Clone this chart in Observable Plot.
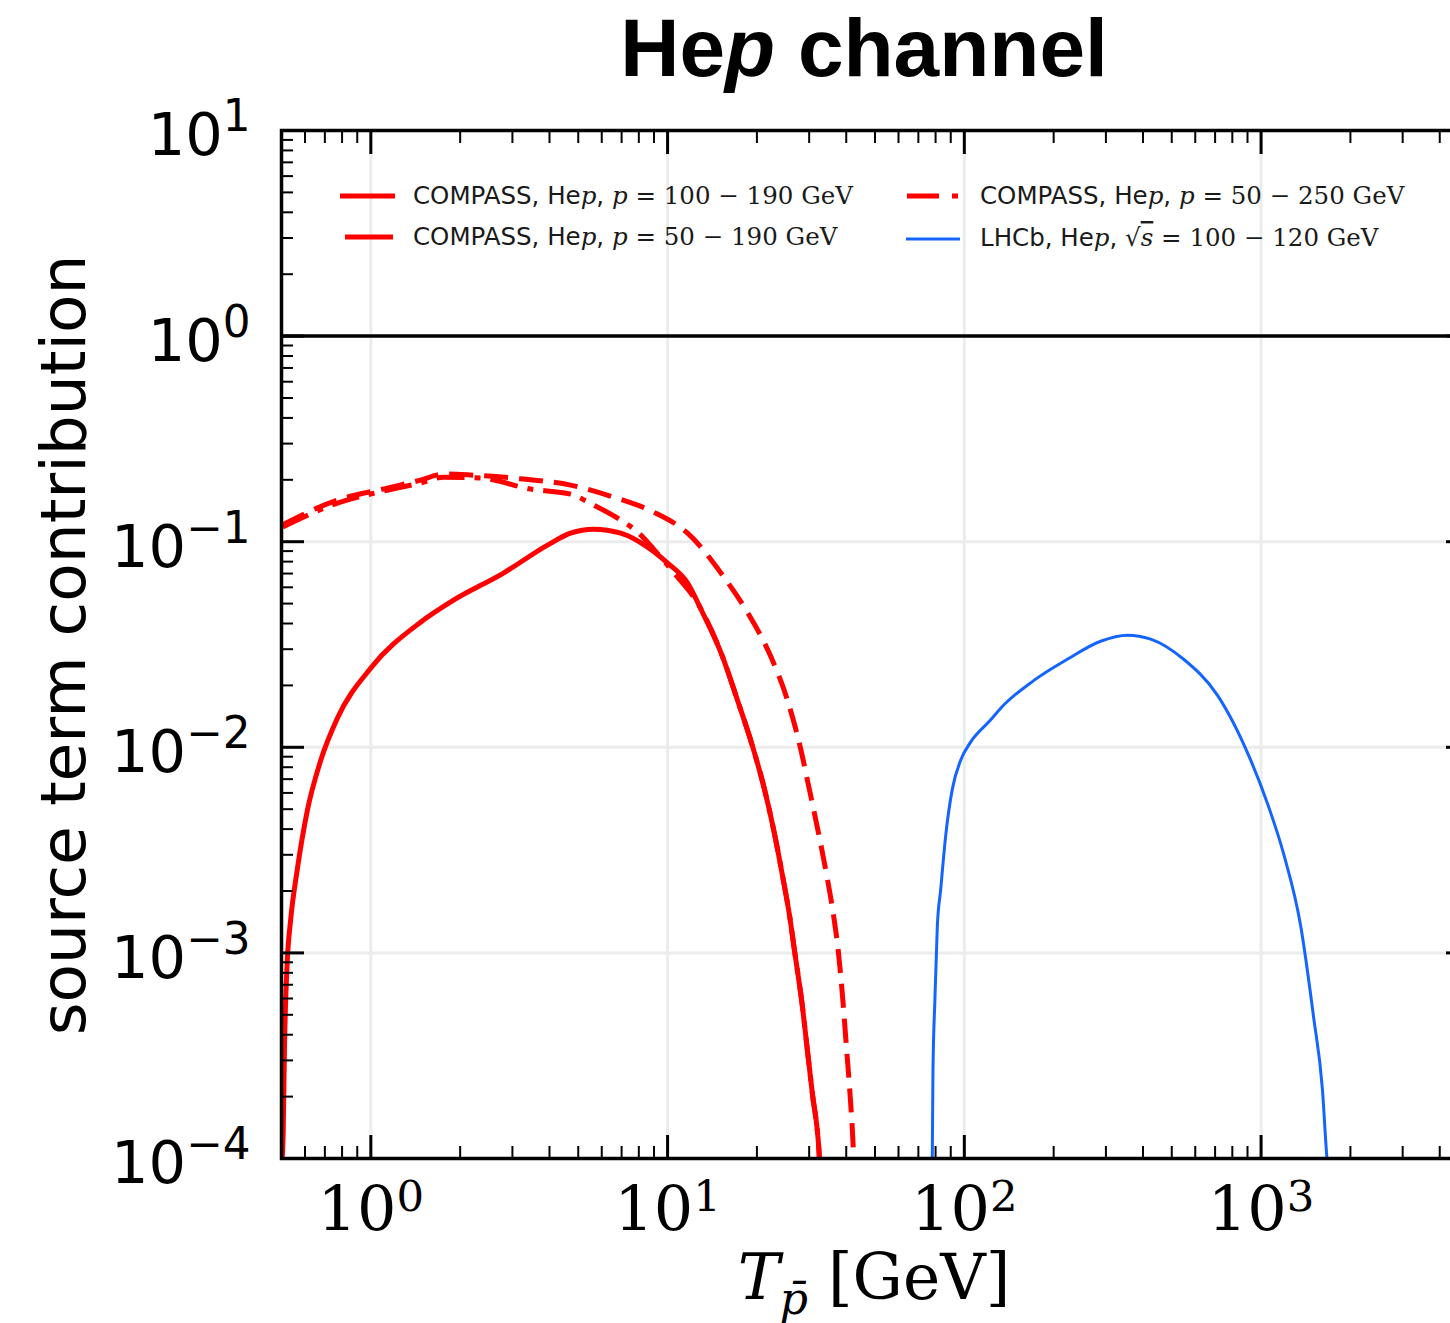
<!DOCTYPE html>
<html><head><meta charset="utf-8">
<script src="https://cdn.jsdelivr.net/npm/d3@7"></script>
<script src="https://cdn.jsdelivr.net/npm/@observablehq/plot@0.6"></script>
<style>
html,body{margin:0;padding:0;background:#fff;}
#wrap{position:relative;width:1450px;height:1323px;overflow:hidden;background:#fff;}
#chart{position:absolute;left:0;top:0;width:1470px;height:1323px;}
#chart svg{max-width:none !important;}
#overlay{position:absolute;left:0;top:0;pointer-events:none;}
</style>
</head><body>
<div id="wrap"><div id="chart"></div>
<svg id="overlay" width="1450" height="1323" xmlns="http://www.w3.org/2000/svg"></svg>
</div>
<script>
// ---- data ----
const seriesNames = [
  "COMPASS, Hep, p = 100 − 190 GeV",
  "COMPASS, Hep, p = 50 − 190 GeV",
  "COMPASS, Hep, p = 50 − 250 GeV",
  "LHCb, Hep, √s = 100 − 120 GeV"
];
const compass100_190_T = [0.503, 0.5067, 0.5117, 0.5225, 0.5363, 0.5648, 0.6103, 0.6767, 0.7706, 1.0, 1.471, 1.90, 2.80, 3.94, 4.71, 5.63, 6.95, 8.56, 10.0, 11.68, 13.09, 15.29, 17.18, 19.30, 21.12, 22.83, 24.36, 25.84, 26.79, 28.45, 29.57, 30.74, 32.36, 32.66];
const compass100_190_V = [1e-4, 1.36e-4, 3.48e-4, 8.92e-4, 1.43e-3, 2.53e-3, 4.89e-3, 8.57e-3, 0.0138, 0.0243, 0.0406, 0.052, 0.0704, 0.0963, 0.110, 0.1151, 0.110, 0.0941, 0.0787, 0.0629, 0.0455, 0.02778, 0.01704, 0.01019, 6.40e-3, 3.91e-3, 2.40e-3, 1.477e-3, 1.02e-3, 5.53e-4, 3.39e-4, 2.08e-4, 1.10e-4, 8.8e-5];
const compass50_190_T = [0.505, 0.7706, 1.136, 1.471, 1.758, 2.168, 3.271, 4.711, 6.577, 8.97, 11.68, 15.48, 18.56, 22.24, 25.32, 27.92, 29.94, 32.16, 34.35, 36.36, 37.61, 39.10, 40.12, 41.17, 42.27, 42.53];
const compass50_190_V = [0.121, 0.1593, 0.1823, 0.1993, 0.2133, 0.211, 0.2016, 0.1885, 0.1648, 0.1393, 0.110, 0.0673, 0.0455, 0.02778, 0.01704, 0.01019, 6.40e-3, 3.91e-3, 2.40e-3, 1.477e-3, 1.02e-3, 5.53e-4, 3.39e-4, 2.08e-4, 1.10e-4, 8.8e-5];
const compass50_250_T = [0.505, 0.7706, 1.136, 1.471, 1.758, 2.343, 3.453, 4.711, 5.632, 6.785, 7.925, 9.47, 10.81, 12.62, 15.29, 17.18, 19.30, 21.12, 22.83, 24.36, 25.84, 26.79, 28.45, 29.57, 30.74, 32.36, 32.66];
const compass50_250_V = [0.118, 0.154, 0.178, 0.193, 0.206, 0.2039, 0.1803, 0.1704, 0.1507, 0.1302, 0.1114, 0.0842, 0.0673, 0.0503, 0.02778, 0.01704, 0.01019, 6.40e-3, 3.91e-3, 2.40e-3, 1.477e-3, 1.02e-3, 5.53e-4, 3.39e-4, 2.08e-4, 1.10e-4, 8.8e-5];
const lhcb_T = [77.8, 78.0, 78.4, 79.6, 81.1, 83.2, 86.5, 91.1, 97.2, 105.0, 122.5, 132.6, 171.2, 222.4, 288.0, 354.3, 424.5, 548.3, 712.4, 922.5, 1050, 1192, 1360, 1503, 1609, 1663, 1690];
const lhcb_V = [8e-5, 1.05e-4, 2.66e-4, 5.96e-4, 1.35e-3, 2.02e-3, 3.70e-3, 6.26e-3, 8.66e-3, 0.0106, 0.01356, 0.0155, 0.0211, 0.0268, 0.0328, 0.0351, 0.0336, 0.0268, 0.01795, 0.00866, 0.00535, 0.00302, 0.00135, 4.87e-4, 2.18e-4, 1.05e-4, 8e-5];
const refLine = [1];
const xMajorTicks = [1, 10, 100, 1000];
const yMajorTicks = [1e-4, 1e-3, 1e-2, 1e-1, 1, 10];

// ---- build tables ----
const toRows = (T, V) => T.map((t, i) => ({T: t, v: V[i]}));
const s1 = toRows(compass100_190_T, compass100_190_V);
const s2 = toRows(compass50_190_T, compass50_190_V);
const s3 = toRows(compass50_250_T, compass50_250_V);
const s4 = toRows(lhcb_T, lhcb_V);

const xDomain = [0.5, 5000];
const yDomain = [1e-4, 10];
function minorTicks([lo, hi]) {
  const out = [];
  for (let e = Math.floor(Math.log10(lo)); e <= Math.ceil(Math.log10(hi)); e++) {
    for (let k = 2; k <= 9; k++) { const v = k * Math.pow(10, e); if (v >= lo && v <= hi) out.push(v); }
  }
  return out;
}
const xMinor = minorTicks(xDomain);
const yMinor = minorTicks(yDomain);
const expFmt = d => "10^" + String(Math.round(Math.log10(d))).replace("-", "\u2212");

const RED = "#ff0000", BLUE = "#1464ff", GRID = "#ececec";
const blank = () => "";

const plot = Plot.plot({
  width: 1470, height: 1323,
  marginLeft: 281, marginRight: 2, marginTop: 130, marginBottom: 165,
  x: {type: "log", domain: xDomain},
  y: {type: "log", domain: yDomain},
  style: {background: "white", fontFamily: "DejaVu Sans", overflow: "visible", maxWidth: "none"},
  marks: [
    Plot.gridX({ticks: xMajorTicks, stroke: GRID, strokeOpacity: 1, strokeWidth: 3}),
    Plot.gridY({ticks: yMajorTicks, stroke: GRID, strokeOpacity: 1, strokeWidth: 3}),
    Plot.ruleY(refLine, {stroke: "black", strokeWidth: 3.5}),
    Plot.line(s1, {x: "T", y: "v", stroke: RED, strokeWidth: 5, curve: "monotone-x", clip: true}),
    Plot.line(s2, {x: "T", y: "v", stroke: RED, strokeWidth: 5, strokeDasharray: "24,11", strokeLinecap: "butt", curve: "monotone-x", clip: true}),
    Plot.line(s3, {x: "T", y: "v", stroke: RED, strokeWidth: 5, strokeDasharray: "28,10,6,10", strokeLinecap: "butt", curve: "monotone-x", clip: true}),
    Plot.line(s4, {x: "T", y: "v", stroke: BLUE, strokeWidth: 3, curve: "monotone-x", clip: true}),
    // inward ticks, all four sides
    Plot.axisX({ticks: xMajorTicks, anchor: "bottom", tickSize: -23, strokeWidth: 3, tickFormat: blank, label: null}),
    Plot.axisX({ticks: xMinor, anchor: "bottom", tickSize: -12, strokeWidth: 2, tickFormat: blank, label: null}),
    Plot.axisX({ticks: xMajorTicks, anchor: "top", tickSize: -23, strokeWidth: 3, tickFormat: blank, label: null}),
    Plot.axisX({ticks: xMinor, anchor: "top", tickSize: -12, strokeWidth: 2, tickFormat: blank, label: null}),
    Plot.axisY({ticks: yMajorTicks, anchor: "left", tickSize: -23, strokeWidth: 3, tickFormat: blank, label: null}),
    Plot.axisY({ticks: yMinor, anchor: "left", tickSize: -12, strokeWidth: 2, tickFormat: blank, label: null}),
    Plot.axisY({ticks: yMajorTicks, anchor: "right", tickSize: -23, strokeWidth: 3, tickFormat: blank, label: null}),
    Plot.axisY({ticks: yMinor, anchor: "right", tickSize: -12, strokeWidth: 2, tickFormat: blank, label: null}),
    // tick labels
    Plot.axisX({ticks: xMajorTicks, anchor: "bottom", tickSize: 0, tickPadding: 27, fontSize: 62, fontFamily: "DejaVu Serif", fill: "black", tickFormat: expFmt, label: null}),
    Plot.axisY({ticks: yMajorTicks, anchor: "left", tickSize: 0, tickPadding: 31, dy: 6, fontSize: 59, fontFamily: "DejaVu Sans", fill: "black", tickFormat: expFmt, label: null}),
    Plot.frame({stroke: "black", strokeWidth: 3.5})
  ]
});
plot.style.maxWidth = "none";
document.getElementById("chart").appendChild(plot);

// superscripts for tick labels
const NS = "http://www.w3.org/2000/svg";
plot.querySelectorAll("text").forEach(t => {
  const s = t.textContent;
  if (s.includes("^")) {
    const [b, e] = s.split("^");
    const fam = t.closest("[font-family]");
    const serif = fam && /Serif/.test(fam.getAttribute("font-family"));
    t.textContent = b;
    const ts = document.createElementNS(NS, "tspan");
    ts.setAttribute("font-size", serif ? "0.7em" : "0.74em");
    ts.setAttribute("dy", serif ? "-19" : "-24");
    ts.textContent = e;
    t.appendChild(ts);
  }
});

// ---- overlay: title, axis labels, legend ----
const ov = document.getElementById("overlay");
const M = 'font-family="DejaVu Serif"';
ov.innerHTML = `
<text x="864" y="76" text-anchor="middle" font-family="Liberation Sans" font-weight="bold" font-size="82">He<tspan font-style="italic">p</tspan> channel</text>
<text transform="translate(85,645) rotate(-90)" text-anchor="middle" font-family="DejaVu Sans" font-size="63">source term contribution</text>
<text x="874" y="1299" text-anchor="middle" ${M} font-size="63"><tspan font-style="italic">T</tspan><tspan font-style="italic" font-size="44" dy="15">p̄</tspan><tspan dy="-15"> [GeV]</tspan></text>
<line x1="340" x2="395" y1="196" y2="196" stroke="${RED}" stroke-width="5"/>
<line x1="345" x2="393" y1="237" y2="237" stroke="${RED}" stroke-width="5"/>
<line x1="907" x2="960" y1="196" y2="196" stroke="${RED}" stroke-width="5" stroke-dasharray="32,13,6,100"/>
<line x1="906" x2="960" y1="239" y2="239" stroke="${BLUE}" stroke-width="3"/>
<g font-size="24.5" fill="#1a1a1a">
<text x="413" y="204"><tspan font-family="DejaVu Sans">COMPASS, He</tspan><tspan ${M} font-style="italic">p</tspan><tspan font-family="DejaVu Sans">, </tspan><tspan ${M} font-style="italic">p</tspan><tspan ${M}> = 100 − 190 GeV</tspan></text>
<text x="413" y="245"><tspan font-family="DejaVu Sans">COMPASS, He</tspan><tspan ${M} font-style="italic">p</tspan><tspan font-family="DejaVu Sans">, </tspan><tspan ${M} font-style="italic">p</tspan><tspan ${M}> = 50 − 190 GeV</tspan></text>
<text x="980" y="204"><tspan font-family="DejaVu Sans">COMPASS, He</tspan><tspan ${M} font-style="italic">p</tspan><tspan font-family="DejaVu Sans">, </tspan><tspan ${M} font-style="italic">p</tspan><tspan ${M}> = 50 − 250 GeV</tspan></text>
<text x="980" y="246"><tspan font-family="DejaVu Sans">LHCb, He</tspan><tspan ${M} font-style="italic">p</tspan><tspan font-family="DejaVu Sans">, </tspan><tspan ${M}>√</tspan><tspan ${M} font-style="italic" text-decoration="overline">s</tspan><tspan ${M}> = 100 − 120 GeV</tspan></text>
</g>`;
</script>
</body></html>
